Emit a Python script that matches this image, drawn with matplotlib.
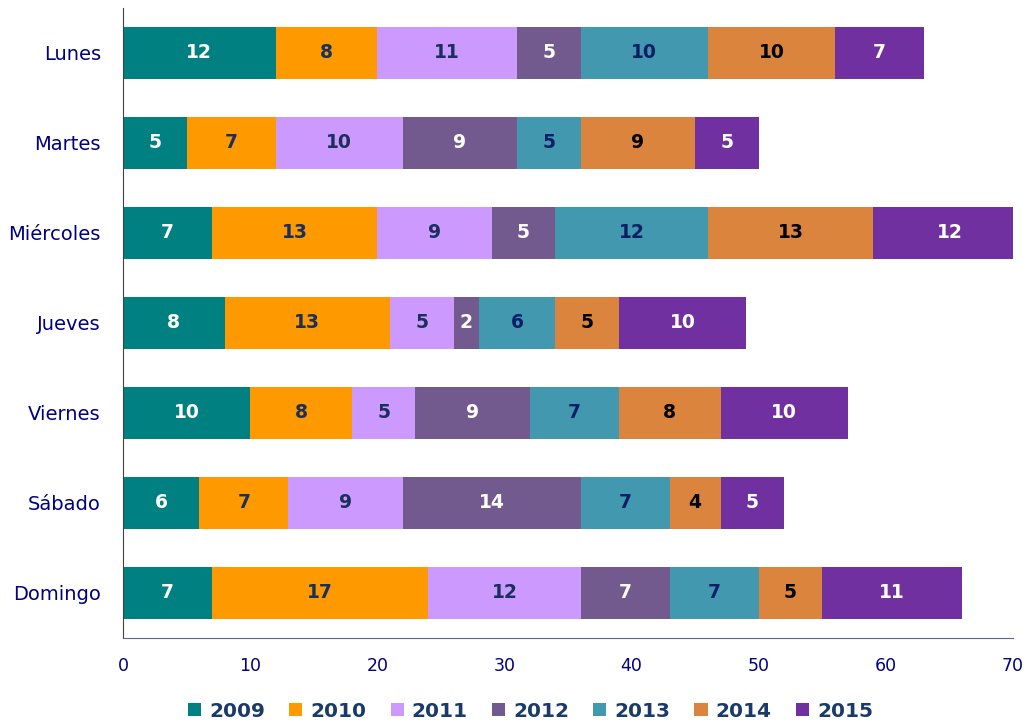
import numpy as np
import matplotlib
matplotlib.use("Agg")
import matplotlib.pyplot as plt

dias = ['Lunes', 'Martes', 'Miércoles', 'Jueves', 'Viernes', 'Sábado', 'Domingo']
anios = ['2009', '2010', '2011', '2012', '2013', '2014', '2015']

v2009 = [12, 5, 7, 8, 10, 6, 7]
v2010 = [8, 7, 13, 13, 8, 7, 17]
v2011 = [11, 10, 9, 5, 5, 9, 12]
v2012 = [5, 9, 5, 2, 9, 14, 7]
v2013 = [10, 5, 12, 6, 7, 7, 7]
v2014 = [10, 9, 13, 5, 8, 4, 5]
v2015 = [7, 5, 12, 10, 10, 5, 11]
series = [v2009, v2010, v2011, v2012, v2013, v2014, v2015]

colores = ['#008080', '#FF9900', '#CC99FF', '#725A8E', '#4198AF', '#DB843D', '#7030A0']
col_txt = ['white', '#1A2F5A', '#1A2F5A', 'white', '#0B1F66', 'black', 'white']

plt.rcParams['font.family'] = ['DejaVu Sans']

fig = plt.figure(figsize=(10.3, 7.23), dpi=100)
ax = fig.add_axes([0.1194, 0.1176, 0.8641, 0.8714])

y = np.arange(len(dias))
izq = np.zeros(len(dias))
for i, s in enumerate(series):
    s = np.array(s)
    ax.barh(y, s, left=izq, height=0.58, color=colores[i], label=anios[i])
    for j in range(len(dias)):
        cx = izq[j] + s[j] / 2
        if cx < 70:
            ax.text(cx, y[j], str(s[j]), ha='center', va='center', color=col_txt[i],
                    fontsize=13.5, fontweight='bold')
    izq = izq + s

ax.set_xlim(0, 70)
ax.set_ylim(6.5, -0.5)
ax.set_yticks(y)
ax.set_yticklabels(dias, fontsize=14, color='#000080')
ax.set_xticks(range(0, 71, 10))
ax.tick_params(axis='x', labelsize=12.5, labelcolor='#000080', length=0, pad=14)
ax.tick_params(axis='y', length=0, pad=16)
ax.spines['top'].set_visible(False)
ax.spines['right'].set_visible(False)
ax.spines['left'].set_color('#404040')
ax.spines['bottom'].set_color('#6060A0')

leg = fig.legend(loc='lower center', bbox_to_anchor=(0.515, -0.022), ncol=7, frameon=False,
                 prop={'size': 14.5, 'weight': 'bold'}, handlelength=0.65, handleheight=0.65,
                 handletextpad=0.4, columnspacing=1.2)
for t in leg.get_texts():
    t.set_color('#1A3A6A')

fig.savefig('out.png', dpi=100)
